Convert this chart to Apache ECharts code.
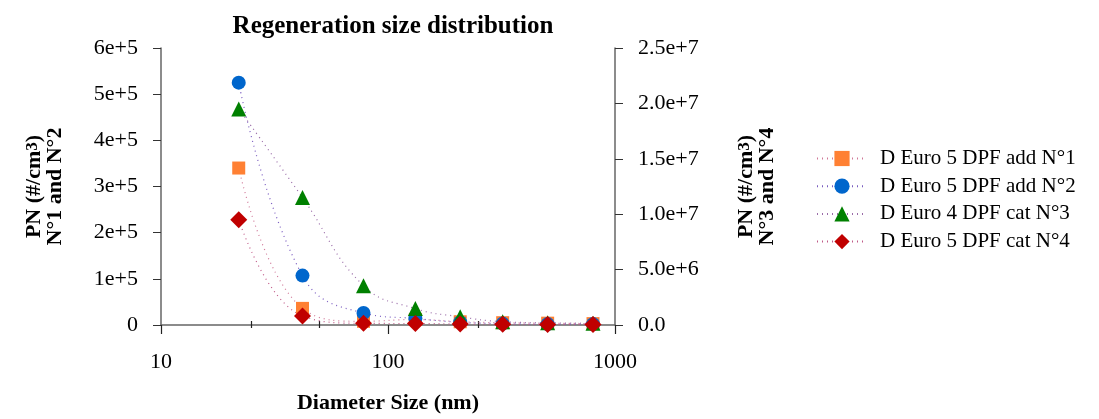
<!DOCTYPE html>
<html>
<head>
<meta charset="utf-8">
<script src="https://cdn.jsdelivr.net/npm/echarts@6/dist/echarts.min.js"></script>
<style>html,body{margin:0;padding:0;background:#fff}#c{width:1099px;height:419px}</style>
</head>
<body>
<div id="c"></div>
<script>
const diameters = [22, 42, 78, 132, 208, 320, 505, 800];
const seriesNames = ['D Euro 5 DPF add N°1', 'D Euro 5 DPF add N°2', 'D Euro 4 DPF cat N°3', 'D Euro 5 DPF cat N°4'];
const pn1 = [340000, 36000, 8000, 12000, 7000, 5000, 4000, 3000];
const pn2 = [525000, 107000, 26000, 14000, 6000, 3000, 2000, 2000];
const pn3 = [19500000, 11500000, 3550000, 1480000, 740000, 300000, 200000, 150000];
const pn4 = [9500000, 820000, 150000, 130000, 100000, 60000, 50000, 50000];
const xMajorTicks = [10, 100, 1000];
const xMinorTicks = [25, 50, 250];
const leftTicks = {min: 0, max: 600000, interval: 100000};
const rightTicks = {min: 0, max: 25000000, interval: 5000000};

const FONT = '"Liberation Serif", "Times New Roman", serif';
const pair = (ys) => diameters.map((d, i) => [d, ys[i]]);
const nameRich = {
  a: {fontFamily: FONT, fontWeight: 'bold', fontSize: 22, lineHeight: 21, color: '#000'},
  s: {fontFamily: FONT, fontWeight: 'bold', fontSize: 17, lineHeight: 9, verticalAlign: 'top', color: '#000'}
};
const axisCommon = {
  axisLine: {show: true, lineStyle: {color: '#666', width: 1.5}},
  axisTick: {show: true, inside: false, length: 8, lineStyle: {color: '#333', width: 1}},
  splitLine: {show: false}
};
function mk(name, data, color, lineColor, symbol, size, yIdx) {
  return {
    name, type: 'line', xAxisIndex: 0, yAxisIndex: yIdx, data: pair(data), smooth: 0.45,
    symbol, symbolSize: size,
    itemStyle: {color},
    lineStyle: {color: lineColor, width: 1.2, type: [1, 4]},
    emphasis: {disabled: true}
  };
}
function minorAxis(inside, len) {
  return {
    type: 'log', logBase: 10, min: 10, max: 1000, position: 'bottom', offset: 0,
    axisLine: {show: false}, axisLabel: {show: false}, splitLine: {show: false},
    axisTick: {show: true, inside, length: len, customValues: xMinorTicks, lineStyle: {color: '#222', width: 1.2}}
  };
}
const chart = echarts.init(document.getElementById('c'));
chart.setOption({
  animation: false,
  title: {
    text: 'Regeneration size distribution', left: 388, top: 9, textAlign: 'center',
    textStyle: {fontFamily: FONT, fontWeight: 'bold', fontSize: 25, color: '#000'}
  },
  grid: {left: 161, right: 484, top: 48, bottom: 89},
  legend: {
    orient: 'vertical', left: 811, top: 143, itemWidth: 50, itemHeight: 19, itemGap: 6.7,
    textStyle: {fontFamily: FONT, fontSize: 21, color: '#000', padding: [0, 0, 0, 8]},
    data: seriesNames
  },
  xAxis: [
    Object.assign({}, axisCommon, {
      type: 'log', logBase: 10, min: 10, max: 1000, position: 'bottom',
      name: 'Diameter Size (nm)', nameLocation: 'middle', nameGap: 67,
      nameTextStyle: {fontFamily: FONT, fontWeight: 'bold', fontSize: 22, color: '#000'},
      axisTick: {show: true, inside: false, length: 9, customValues: xMajorTicks, lineStyle: {color: '#222', width: 1.2}},
      axisLabel: {margin: 26, fontFamily: FONT, fontSize: 22, color: '#000', customValues: xMajorTicks,
        formatter: v => String(Math.round(v))}
    }),
    minorAxis(true, 4),
    minorAxis(false, 3)
  ],
  yAxis: [
    Object.assign({}, axisCommon, {
      type: 'value', position: 'left', min: leftTicks.min, max: leftTicks.max, interval: leftTicks.interval,
      name: '{a|PN (#/cm}{s|3}{a|)}\n{a|N°1 and N°2}', nameLocation: 'middle', nameGap: 95, nameRotate: 90,
      nameTextStyle: {rich: nameRich, align: 'center'},
      axisLabel: {margin: 23, fontFamily: FONT, fontSize: 22, color: '#000',
        formatter: v => v === 0 ? '0' : v.toExponential(0)}
    }),
    Object.assign({}, axisCommon, {
      type: 'value', position: 'right', min: rightTicks.min, max: rightTicks.max, interval: rightTicks.interval,
      name: '{a|PN (#/cm}{s|3}{a|)}\n{a|N°3 and N°4}', nameLocation: 'middle', nameGap: 121, nameRotate: 90,
      nameTextStyle: {rich: nameRich, align: 'center'},
      axisLabel: {margin: 23, fontFamily: FONT, fontSize: 22, color: '#000',
        formatter: v => v === 0 ? '0.0' : v.toExponential(1)}
    })
  ],
  series: [
    mk(seriesNames[0], pn1, '#FF8033', '#d07898', 'rect', 13, 0),
    mk(seriesNames[1], pn2, '#0066CC', '#7a5cc0', 'circle', 14, 0),
    mk(seriesNames[2], pn3, '#008000', '#9a6ca8', 'triangle', 15, 1),
    mk(seriesNames[3], pn4, '#C00000', '#c05a88', 'diamond', 17, 1)
  ]
});
</script>
</body>
</html>
